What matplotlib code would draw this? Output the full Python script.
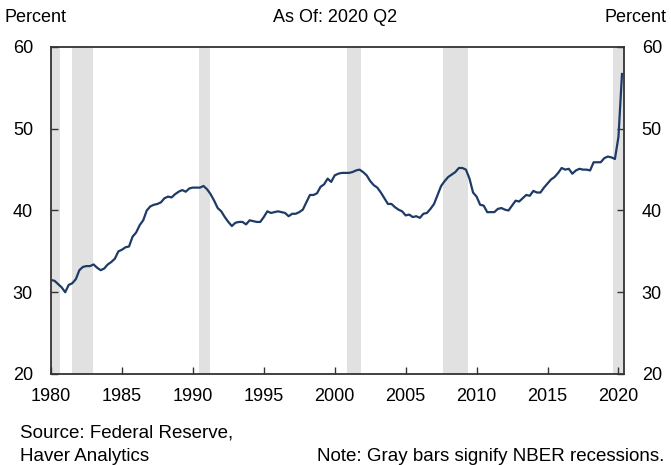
import matplotlib
matplotlib.use("Agg")
import matplotlib.pyplot as plt
import numpy as np

plt.rcParams['font.family'] = ['Liberation Sans', 'DejaVu Sans']

start_year = 1980
values = [
    31.5, 31.4, 31.0, 30.6,   # 1980
    30.0, 30.9, 31.1, 31.6,   # 1981
    32.7, 33.1, 33.2, 33.2,   # 1982
    33.4, 33.0, 32.7, 32.9,   # 1983
    33.4, 33.7, 34.1, 35.0,   # 1984
    35.2, 35.5, 35.6, 36.8,   # 1985
    37.3, 38.2, 38.8, 40.0,   # 1986
    40.5, 40.7, 40.8, 41.0,   # 1987
    41.5, 41.7, 41.6, 42.0,   # 1988
    42.3, 42.5, 42.3, 42.7,   # 1989
    42.8, 42.8, 42.8, 43.0,   # 1990
    42.6, 42.0, 41.2, 40.3,   # 1991
    39.9, 39.2, 38.6, 38.1,   # 1992
    38.5, 38.6, 38.6, 38.3,   # 1993
    38.8, 38.7, 38.6, 38.6,   # 1994
    39.2, 39.9, 39.7, 39.8,   # 1995
    39.9, 39.8, 39.7, 39.3,   # 1996
    39.6, 39.6, 39.8, 40.1,   # 1997
    41.0, 41.9, 41.9, 42.1,   # 1998
    42.9, 43.2, 43.9, 43.5,   # 1999
    44.3, 44.5, 44.6, 44.6,   # 2000
    44.6, 44.7, 44.9, 45.0,   # 2001
    44.7, 44.3, 43.6, 43.1,   # 2002
    42.8, 42.2, 41.5, 40.8,   # 2003
    40.8, 40.4, 40.1, 39.9,   # 2004
    39.4, 39.5, 39.2, 39.3,   # 2005
    39.1, 39.6, 39.7, 40.2,   # 2006
    40.8, 41.9, 43.0, 43.6,   # 2007
    44.1, 44.4, 44.7, 45.2,   # 2008
    45.2, 45.0, 43.9, 42.2,   # 2009
    41.7, 40.7, 40.6, 39.8,   # 2010
    39.8, 39.8, 40.2, 40.3,   # 2011
    40.1, 40.0, 40.6, 41.2,   # 2012
    41.1, 41.5, 41.9, 41.8,   # 2013
    42.4, 42.2, 42.2, 42.8,   # 2014
    43.3, 43.8, 44.1, 44.6,   # 2015
    45.2, 45.0, 45.1, 44.5,   # 2016
    44.9, 45.1, 45.0, 45.0,   # 2017
    44.9, 45.9, 45.9, 45.9,   # 2018
    46.4, 46.6, 46.5, 46.3,   # 2019
    49.0, 56.7,               # 2020
]

recession_starts = [1980.0, 1981.5, 1990.45, 2000.9, 2007.65, 2019.65]
recession_ends = [1980.65, 1982.95, 1991.2, 2001.85, 2009.4, 2020.4]

x_ticks = [1980, 1985, 1990, 1995, 2000, 2005, 2010, 2015, 2020]
y_ticks = [20, 30, 40, 50, 60]

dates = start_year + np.arange(len(values)) * 0.25

fig = plt.figure(figsize=(6.71, 4.65), dpi=100)
ax = fig.add_axes([51/671, 1-374/465, (623.7-51)/671, (374-47)/465])

for s, e in zip(recession_starts, recession_ends):
    ax.axvspan(s, e, color='#e1e1e1', lw=0, zorder=0)

ax.plot(dates, values, color='#1d3b66', lw=1.6, zorder=3)

ax.set_xlim(1980, 2020.37)
ax.set_ylim(20, 60)
ax.set_xticks(x_ticks)
ax.set_yticks(y_ticks)

for sp in ax.spines.values():
    sp.set_color('#333333')
    sp.set_linewidth(1.3)

ax.tick_params(axis='x', direction='in', length=5, width=1, color='#333333',
               labelsize=13, pad=10)
ax.tick_params(axis='y', direction='in', length=5, width=1, color='#333333',
               labelsize=13, pad=13, left=True, right=True,
               labelleft=True, labelright=True)

fig.text(5/671, 1-18/465, 'Percent', fontsize=13, ha='left', va='center')
fig.text(667/671, 1-18/465, 'Percent', fontsize=13, ha='right', va='center')
fig.text(335/671, 1-18/465, 'As Of: 2020 Q2', fontsize=13, ha='center', va='center')

fig.text(20/671, 1-433/465, 'Source: Federal Reserve,', fontsize=13.5, ha='left', va='center')
fig.text(20/671, 1-456/465, 'Haver Analytics', fontsize=13.5, ha='left', va='center')
fig.text(664/671, 1-456/465, 'Note: Gray bars signify NBER recessions.', fontsize=13.5,
         ha='right', va='center')

fig.savefig('out.png', dpi=100)
